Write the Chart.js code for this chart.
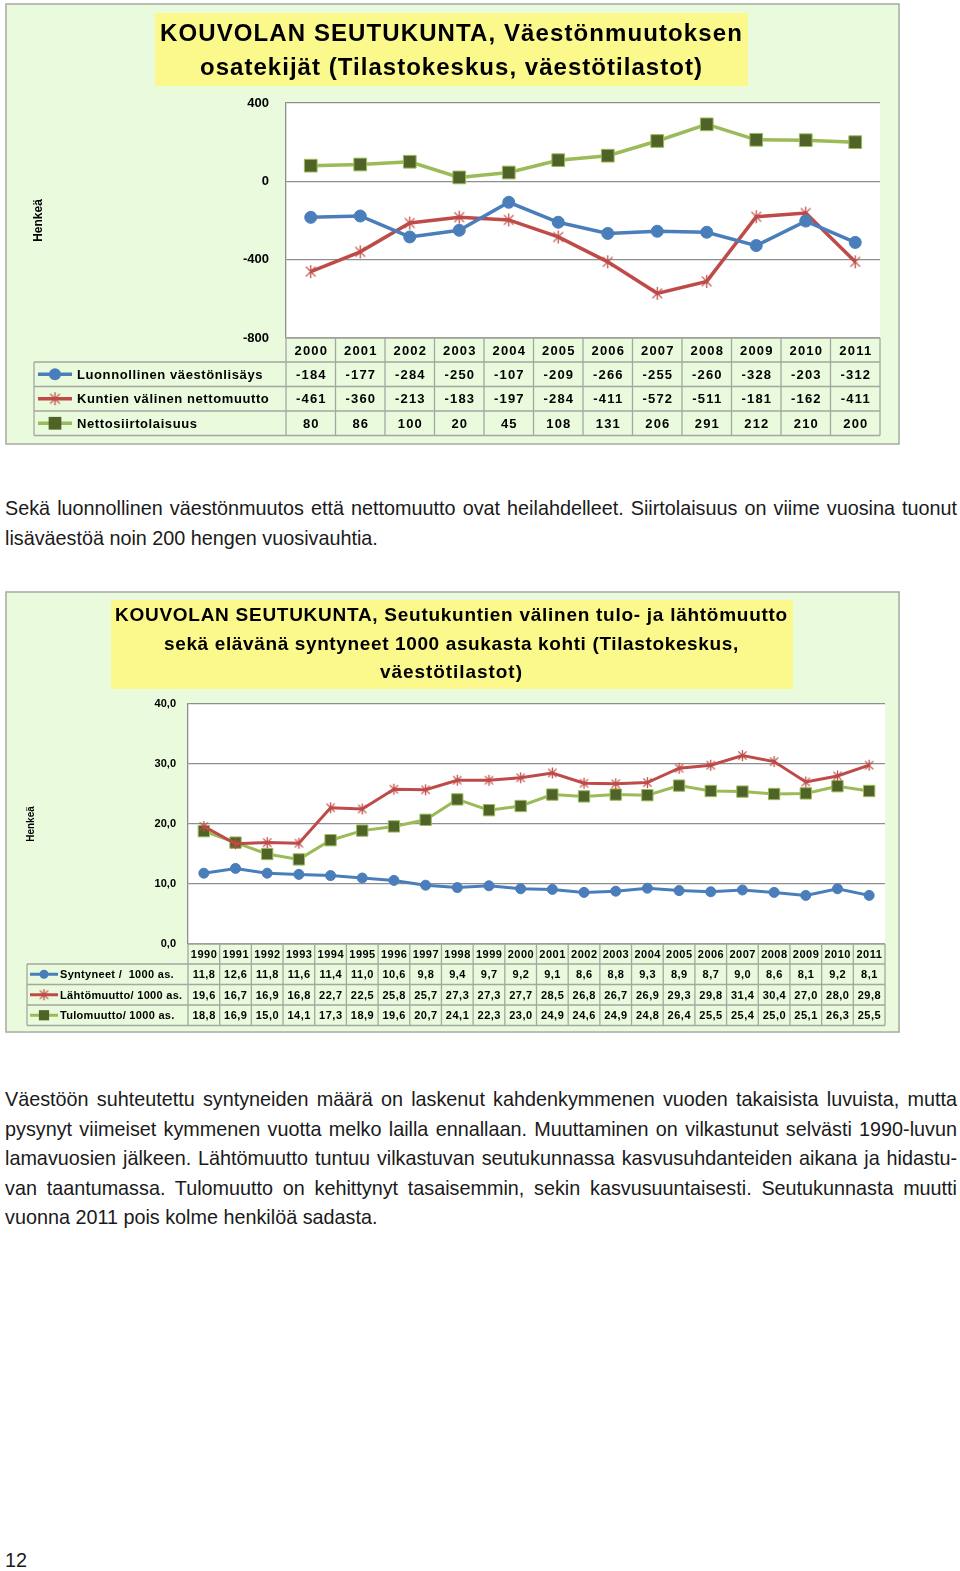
<!DOCTYPE html>
<html lang="fi">
<head>
<meta charset="utf-8">
<title>Kouvolan seutukunta – väestönmuutos</title>
<script src="https://cdn.jsdelivr.net/npm/chart.js@4/dist/chart.umd.min.js"></script>
<style>
  html, body { margin: 0; padding: 0; background: #fff; }
  #page { position: relative; width: 960px; height: 1571px; overflow: hidden;
          font-family: "Liberation Sans", Arial, sans-serif; color: #1a1a1a; }
  canvas { position: absolute; }
  #c1 { left: 5px; top: 3px; }
  #c2 { left: 5px; top: 591px; }
  .txt { position: absolute; left: 5px; width: 952px; font-size: 19.8px; line-height: 29.5px; }
  .txt div { white-space: nowrap; }
  .txt .j { text-align: justify; text-align-last: justify; white-space: normal; }
  #p1 { top: 493px; line-height: 30px; }
  #p2 { top: 1085px; }
  #pno { position: absolute; left: 5px; top: 1545px; font-size: 19.8px; line-height: 30px; }
</style>
</head>
<body>
<div id="page">
  <canvas id="c1" width="895" height="442"></canvas>
  <div class="txt" id="p1">
    <div class="j">Sekä luonnollinen väestönmuutos että nettomuutto ovat heilahdelleet. Siirtolaisuus on viime vuosina tuonut</div>
    <div>lisäväestöä noin 200 hengen vuosivauhtia.</div>
  </div>
  <canvas id="c2" width="895" height="442"></canvas>
  <div class="txt" id="p2">
    <div class="j">Väestöön suhteutettu syntyneiden määrä on laskenut kahdenkymmenen vuoden takaisista luvuista, mutta</div>
    <div class="j">pysynyt viimeiset kymmenen vuotta melko lailla ennallaan. Muuttaminen on vilkastunut selvästi 1990-luvun</div>
    <div class="j">lamavuosien jälkeen. Lähtömuutto tuntuu vilkastuvan seutukunnassa kasvusuhdanteiden aikana ja hidastu-</div>
    <div class="j">van taantumassa. Tulomuutto on kehittynyt tasaisemmin, sekin kasvusuuntaisesti. Seutukunnasta muutti</div>
    <div>vuonna 2011 pois kolme henkilöä sadasta.</div>
  </div>
  <div id="pno">12</div>
</div>

<script>
// ---- chart 1: väestönmuutoksen osatekijät ----
const years1 = ["2000", "2001", "2002", "2003", "2004", "2005", "2006", "2007", "2008", "2009", "2010", "2011"];
const luonnollinen = [-184, -177, -284, -250, -107, -209, -266, -255, -260, -328, -203, -312];
const nettomuutto = [-461, -360, -213, -183, -197, -284, -411, -572, -511, -181, -162, -411];
const siirtolaisuus = [80, 86, 100, 20, 45, 108, 131, 206, 291, 212, 210, 200];
const names1 = ["Luonnollinen väestönlisäys", "Kuntien välinen nettomuutto", "Nettosiirtolaisuus"];
const title1 = ["KOUVOLAN SEUTUKUNTA, Väestönmuutoksen", "osatekijät (Tilastokeskus, väestötilastot)"];
const ticks1 = [400, 0, -400, -800];

// ---- chart 2: tulo- ja lähtömuutto, syntyneet / 1000 as. ----
const years2 = ["1990", "1991", "1992", "1993", "1994", "1995", "1996", "1997", "1998", "1999", "2000",
  "2001", "2002", "2003", "2004", "2005", "2006", "2007", "2008", "2009", "2010", "2011"];
const syntyneet = [11.8, 12.6, 11.8, 11.6, 11.4, 11.0, 10.6, 9.8, 9.4, 9.7, 9.2, 9.1, 8.6, 8.8, 9.3, 8.9, 8.7, 9.0, 8.6, 8.1, 9.2, 8.1];
const lahtomuutto = [19.6, 16.7, 16.9, 16.8, 22.7, 22.5, 25.8, 25.7, 27.3, 27.3, 27.7, 28.5, 26.8, 26.7, 26.9, 29.3, 29.8, 31.4, 30.4, 27.0, 28.0, 29.8];
const tulomuutto = [18.8, 16.9, 15.0, 14.1, 17.3, 18.9, 19.6, 20.7, 24.1, 22.3, 23.0, 24.9, 24.6, 24.9, 24.8, 26.4, 25.5, 25.4, 25.0, 25.1, 26.3, 25.5];
const names2 = ["Syntyneet /  1000 as.", "Lähtömuutto/ 1000 as.", "Tulomuutto/ 1000 as."];
const title2 = ["KOUVOLAN SEUTUKUNTA, Seutukuntien välinen tulo- ja lähtömuutto",
  "sekä elävänä syntyneet 1000 asukasta kohti (Tilastokeskus,", "väestötilastot)"];
const ticks2 = [40, 30, 20, 10, 0];

(function () {
  "use strict";

  const FONT = '"Liberation Sans", Arial, sans-serif';
  const BLUE = "#4a7ebb", RED = "#be4b48", GREEN = "#9bbb59", OLIVE = "#4f6228";
  const FRAME_BG = "#eafadc", YELLOW = "#fcf98c", GRID = "#8e8e8e", CELL = "#a4a8a0";

  // excel style star marker: X plus a vertical stroke
  function starMarker(size, color) {
    const c = document.createElement("canvas");
    c.width = c.height = size;
    const g = c.getContext("2d");
    const m = size / 2, r = size / 2 - 1, d = r * 0.75;
    g.strokeStyle = color;
    g.lineWidth = 1.3;
    g.beginPath();
    g.moveTo(m - d, m - d); g.lineTo(m + d, m + d);
    g.moveTo(m + d, m - d); g.lineTo(m - d, m + d);
    g.moveTo(m, m - r); g.lineTo(m, m + r);
    g.stroke();
    return c;
  }

  // draws text so it spans a given width (the pdf has loose tracking)
  function fitText(ctx, text, cx, y, width) {
    ctx.letterSpacing = "0px";
    const w = ctx.measureText(text).width;
    const ls = text.length > 1 ? (width - w) / (text.length - 1) : 0;
    ctx.letterSpacing = ls.toFixed(2) + "px";
    ctx.textAlign = "left";
    ctx.fillText(text, cx - width / 2, y);
    ctx.letterSpacing = "0px";
  }

  const framePlugin = {
    id: "frame",
    beforeDraw(chart, args, o) {
      const ctx = chart.ctx, a = chart.chartArea;
      ctx.save();
      ctx.fillStyle = FRAME_BG;
      ctx.fillRect(0, 0, chart.width, chart.height);
      ctx.strokeStyle = "#a9aba6";
      ctx.lineWidth = 1.5;
      ctx.strokeRect(1, 1, chart.width - 2, chart.height - 2);
      ctx.fillStyle = "#fff";
      ctx.fillRect(a.left, a.top, a.right - a.left, a.bottom - a.top);
      const b = o.box;
      ctx.fillStyle = YELLOW;
      ctx.fillRect(b[0], b[1], b[2], b[3]);
      ctx.fillStyle = "#000";
      ctx.font = "bold " + o.size + "px " + FONT;
      ctx.textBaseline = "middle";
      o.lines.forEach((t, i) => fitText(ctx, t, o.cx, o.ys[i], o.widths[i]));
      ctx.restore();
    }
  };

  const tablePlugin = {
    id: "dataTable",
    afterDraw(chart, args, o) {
      const ctx = chart.ctx, a = chart.chartArea, x = chart.scales.x;
      const n = chart.data.labels.length;
      const colW = (a.right - a.left) / n;
      const top = a.bottom, headB = top + o.headH;
      const sets = chart.data.datasets;
      const rowY = sets.map((d, i) => headB + i * o.rowH);
      const bottom = headB + sets.length * o.rowH;
      ctx.save();
      ctx.strokeStyle = CELL;
      ctx.lineWidth = 1.3;
      ctx.beginPath();
      ctx.moveTo(a.left, top); ctx.lineTo(a.right, top);
      for (let i = 0; i <= sets.length; i++) {
        const y = headB + i * o.rowH;
        ctx.moveTo(o.left, y); ctx.lineTo(a.right, y);
      }
      for (let i = 0; i <= n; i++) {
        const cx = a.left + i * colW;
        ctx.moveTo(cx, top); ctx.lineTo(cx, bottom);
      }
      ctx.moveTo(o.left, headB); ctx.lineTo(o.left, bottom);
      ctx.stroke();

      ctx.fillStyle = "#000";
      ctx.font = "bold " + o.size + "px " + FONT;
      ctx.textBaseline = "middle";
      ctx.textAlign = "center";
      ctx.letterSpacing = o.spacing + "px";
      chart.data.labels.forEach((lab, i) => {
        ctx.fillText(lab, x.getPixelForValue(i) + o.spacing / 2, top + o.headH / 2 + 1);
      });
      sets.forEach((ds, r) => {
        const cy = rowY[r] + o.rowH / 2 + 1;
        ds.data.forEach((v, i) => {
          ctx.fillText(o.fmt(v), x.getPixelForValue(i) + o.spacing / 2, cy);
        });
      });

      // legend keys in the first column
      sets.forEach((ds, r) => {
        const cy = rowY[r] + o.rowH / 2;
        ctx.strokeStyle = ds.borderColor;
        ctx.lineWidth = ds.borderWidth;
        ctx.beginPath();
        ctx.moveTo(o.keyX[0], cy); ctx.lineTo(o.keyX[1], cy);
        ctx.stroke();
        const mx = (o.keyX[0] + o.keyX[1]) / 2;
        const rad = ds.pointRadius * o.keyScale;
        if (ds.pointStyle === "circle") {
          ctx.fillStyle = ds.pointBackgroundColor;
          ctx.beginPath(); ctx.arc(mx, cy, rad, 0, Math.PI * 2); ctx.fill();
        } else if (ds.pointStyle === "rect") {
          const s = rad * Math.SQRT1_2;
          ctx.fillStyle = ds.pointBackgroundColor;
          ctx.fillRect(mx - s, cy - s, 2 * s, 2 * s);
        } else {
          const img = ds.pointStyle;
          ctx.drawImage(img, mx - img.width / 2, cy - img.height / 2);
        }
        ctx.fillStyle = "#000";
        ctx.textAlign = "left";
        ctx.letterSpacing = o.labelSpacing + "px";
        ctx.fillText(ds.label, o.textX, cy + 1);
      });
      ctx.restore();
    }
  };

  function lineSet(label, data, color, style, bg, radius, width) {
    return {
      label, data,
      borderColor: color,
      borderWidth: width,
      pointStyle: style,
      pointRadius: radius,
      pointBackgroundColor: bg,
      pointBorderColor: style === "rect" ? GREEN : bg,
      pointBorderWidth: 1,
      tension: 0,
      fill: false,
    };
  }

  function buildChart(id, cfg) {
    const ctx = document.getElementById(id).getContext("2d");
    return new Chart(ctx, {
      type: "line",
      data: { labels: cfg.labels, datasets: cfg.datasets },
      plugins: [framePlugin, tablePlugin],
      options: {
        responsive: false,
        animation: false,
        devicePixelRatio: 1,
        layout: { padding: cfg.padding },
        plugins: {
          legend: { display: false },
          title: { display: false },
          tooltip: { enabled: false },
          frame: cfg.frame,
          dataTable: cfg.table,
        },
        scales: {
          x: { type: "category", offset: true, display: false },
          y: {
            min: cfg.ticks[cfg.ticks.length - 1],
            max: cfg.ticks[0],
            afterFit: (s) => { s.width = cfg.axisWidth; },
            afterBuildTicks: (s) => { s.ticks = cfg.ticks.map((v) => ({ value: v })); },
            ticks: {
              padding: cfg.tickPad,
              color: "#000",
              font: { family: FONT, size: cfg.tickSize, weight: "bold" },
              callback: cfg.tickFmt,
            },
            grid: { color: GRID, lineWidth: 1.3, drawTicks: false },
            border: { display: true, color: GRID, width: 1.3 },
            title: {
              display: true,
              text: "Henkeä",
              color: "#000",
              font: { family: FONT, size: cfg.titleSize, weight: "bold" },
              padding: { top: cfg.titlePad, bottom: 0 },
            },
          },
        },
      },
    });
  }

  const fmtComma = (v) => Number(v).toFixed(1).replace(".", ",");

  buildChart("c1", {
    labels: years1,
    datasets: [
      lineSet(names1[0], luonnollinen, BLUE, "circle", BLUE, 6, 3.5),
      lineSet(names1[1], nettomuutto, RED, starMarker(15, RED), RED, 7, 3.5),
      lineSet(names1[2], siirtolaisuus, GREEN, "rect", OLIVE, 9, 3.5),
    ],
    ticks: ticks1,
    tickFmt: (v) => String(v),
    tickSize: 13,
    tickPad: 17,
    titleSize: 12,
    titlePad: 26,
    axisWidth: 281,
    padding: { left: 0, top: 100, right: 20, bottom: 107 },
    frame: {
      box: [150, 10, 593, 73],
      cx: 446, size: 24,
      lines: title1, ys: [31, 65], widths: [582, 502],
    },
    table: {
      left: 29, headH: 24, rowH: 24.5, size: 13, spacing: 1.2, labelSpacing: 0.6,
      keyX: [33, 67], keyScale: 1, textX: 72, fmt: (v) => String(v),
    },
  });

  buildChart("c2", {
    labels: years2,
    datasets: [
      lineSet(names2[0], syntyneet, BLUE, "circle", BLUE, 5, 3),
      lineSet(names2[1], lahtomuutto, RED, starMarker(13, RED), RED, 6, 3),
      lineSet(names2[2], tulomuutto, GREEN, "rect", OLIVE, 8, 3),
    ],
    ticks: ticks2,
    tickFmt: fmtComma,
    tickSize: 11,
    tickPad: 12,
    titleSize: 10,
    titlePad: 20,
    axisWidth: 183,
    padding: { left: 0, top: 113, right: 15, bottom: 89 },
    frame: {
      box: [106, 9, 682, 89],
      cx: 446, size: 19,
      lines: title2, ys: [25, 54, 82], widths: [672, 574, 142],
    },
    table: {
      left: 22, headH: 20, rowH: 20.5, size: 11, spacing: 0.5, labelSpacing: 0.3,
      keyX: [25, 53], keyScale: 0.9, textX: 55, fmt: fmtComma,
    },
  });
})();
</script>
</body>
</html>
